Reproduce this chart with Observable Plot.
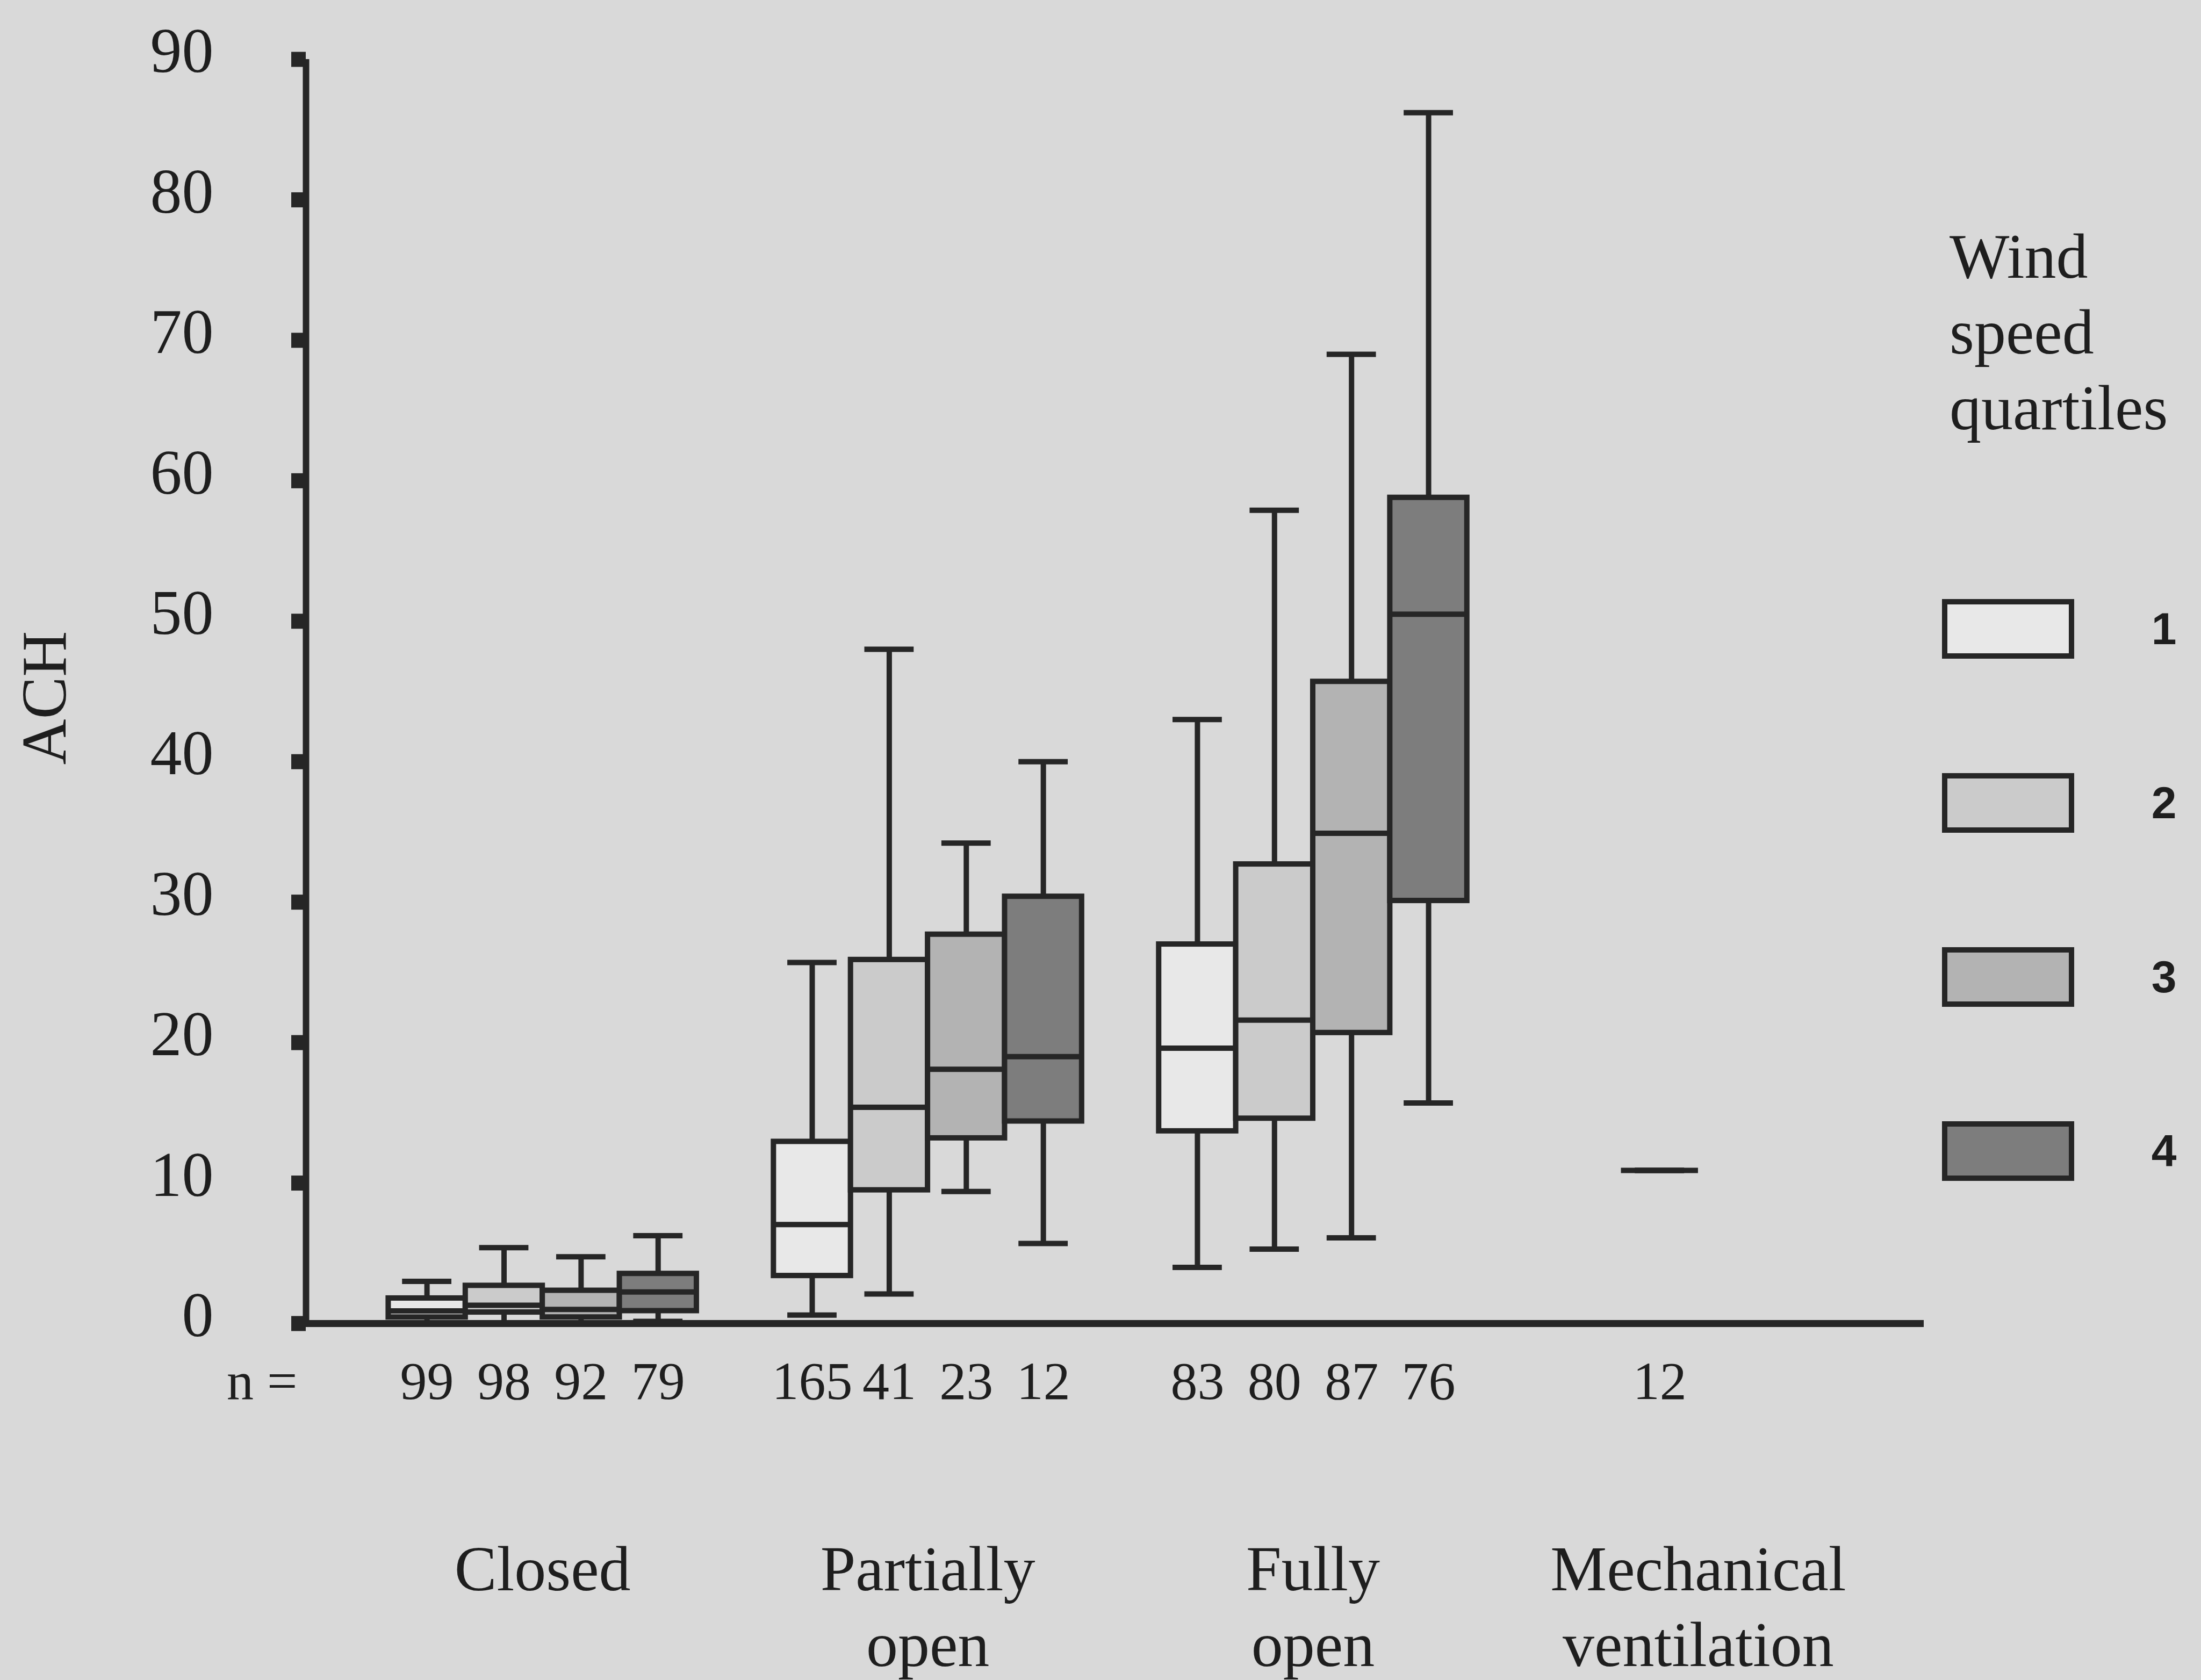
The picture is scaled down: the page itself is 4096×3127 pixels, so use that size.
<!DOCTYPE html>
<html>
<head>
<meta charset="utf-8">
<script src="https://cdn.jsdelivr.net/npm/d3@7"></script>
<script src="https://cdn.jsdelivr.net/npm/@observablehq/plot@0.6"></script>
<style>
  html, body { margin: 0; padding: 0; background: #d9d9d9; }
  #chart { position: relative; width: 4096px; height: 3127px; overflow: hidden; color: #1e1e1e; }
  #chart svg { position: absolute; left: 0; top: 0; }
  .legend-title {
    position: absolute; left: 3628px; top: 407px;
    font-family: "Liberation Serif", "Times New Roman", serif;
    font-size: 118px; line-height: 141px; white-space: pre;
  }
  .swatch {
    position: absolute; left: 3614px; width: 246px; height: 111px;
    box-sizing: border-box; border: 10px solid #262626;
  }
  .swatch-label {
    position: absolute; left: 3967px; width: 120px; height: 111px;
    line-height: 111px; text-align: center;
    font-family: "Liberation Sans", Arial, sans-serif; font-weight: bold; font-size: 84px;
  }
</style>
</head>
<body>
<div id="chart"></div>
<script>
// Window condition groups and wind speed quartiles
const groups = ["Closed", "Partially\nopen", "Fully\nopen", "Mechanical\nventilation"];
const quartiles = ["1", "2", "3", "4"];
const quartileFills = ["#e8e8e8", "#cbcbcb", "#b3b3b3", "#7d7d7d"];
const yTicks = [0, 10, 20, 30, 40, 50, 60, 70, 80, 90];

// One entry per box: group index and wind speed quartile
const boxGroup    = [0, 0, 0, 0, 1, 1, 1, 1, 2, 2, 2, 2, 3];
const boxQuartile = [1, 2, 3, 4, 1, 2, 3, 4, 1, 2, 3, 4, 2];

// Box-plot statistics for air changes per hour (ACH)
const whiskerLow    = [0,    0,    0,    0.15, 0.6,  2.1,  9.4,  5.7,  4.0,  5.3,  6.1,  15.7, 10.9];
const lowerQuartile = [0.45, 0.8,  0.45, 0.9,  3.4,  9.5,  13.2, 14.4, 13.7, 14.6, 20.7, 30.1, 10.9];
const medians       = [0.9,  1.3,  1.0,  2.25, 7.05, 15.4, 18.1, 19.0, 19.6, 21.6, 34.9, 50.5, 10.9];
const upperQuartile = [1.8,  2.7,  2.35, 3.55, 12.95,25.9, 27.7, 30.4, 27.0, 32.7, 45.7, 58.8, 10.9];
const whiskerHigh   = [3.0,  5.4,  4.75, 6.25, 25.7, 48.0, 34.2, 40.0, 43.0, 57.9, 69.0, 86.2, 10.9];
const counts        = [99,   98,   92,   79,   165,  41,   23,   12,   83,   80,   87,   76,   12];

// Each group occupies four adjacent slots followed by a one-slot gap
const slotsPerGroup = 5;
const rows = boxGroup.map((g, i) => ({
  group: groups[g],
  quartile: quartiles[boxQuartile[i] - 1],
  slot: g * slotsPerGroup + (boxQuartile[i] - 1),
  lo: whiskerLow[i],
  q1: lowerQuartile[i],
  med: medians[i],
  q3: upperQuartile[i],
  hi: whiskerHigh[i],
  n: counts[i]
}));
const groupRows = groups.map((label, g) => ({label, center: g * slotsPerGroup + 1.5}));

const xDomain = [-1.57, 19.43];
const halfBox = 0.5;
const halfCap = 0.32;
const ink = "#262626";
const lineW = 10;

const chart = Plot.plot({
  width: 4096,
  height: 3127,
  marginTop: 110,
  marginBottom: 664,
  marginLeft: 569,
  marginRight: 516,
  style: {
    background: "transparent",
    fontFamily: "'Liberation Serif', 'Times New Roman', serif",
    fontSize: "118px",
    color: "#1e1e1e"
  },
  x: {domain: xDomain, axis: null},
  y: {domain: [0, 90], label: null},
  color: {type: "ordinal", domain: quartiles, range: quartileFills},
  marks: [
    // square tick marks on the ACH axis
    Plot.axisY(yTicks, {tickSize: 27, strokeWidth: 28, stroke: ink, tickFormat: () => "", label: null}),
    // tick labels
    Plot.axisY(yTicks, {tickSize: 0, tickPadding: 172, dy: -14, fontSize: 118, label: null}),
    // axis lines
    Plot.ruleX([xDomain[0]], {y1: 0, y2: 90, stroke: ink, strokeWidth: 12}),
    Plot.ruleY([0], {stroke: ink, strokeWidth: 13}),
    // whiskers
    Plot.ruleX(rows, {x: "slot", y1: "q3", y2: "hi", stroke: ink, strokeWidth: lineW}),
    Plot.ruleX(rows, {x: "slot", y1: "lo", y2: "q1", stroke: ink, strokeWidth: lineW}),
    Plot.ruleY(rows, {y: "hi", x1: d => d.slot - halfCap, x2: d => d.slot + halfCap, stroke: ink, strokeWidth: lineW}),
    Plot.ruleY(rows, {y: "lo", x1: d => d.slot - halfCap, x2: d => d.slot + halfCap, stroke: ink, strokeWidth: lineW}),
    // interquartile boxes
    Plot.rect(rows, {
      x1: d => d.slot - halfBox, x2: d => d.slot + halfBox,
      y1: "q1", y2: "q3", fill: "quartile", stroke: ink, strokeWidth: lineW
    }),
    // medians
    Plot.ruleY(rows, {y: "med", x1: d => d.slot - halfBox, x2: d => d.slot + halfBox, stroke: ink, strokeWidth: lineW}),
    // sample sizes
    Plot.text(rows, {x: "slot", y: 0, text: d => String(d.n), dy: 140, lineAnchor: "bottom", fontSize: 100}),
    Plot.text(["n ="], {frameAnchor: "bottom-left", textAnchor: "end", dx: -16, dy: 140, lineAnchor: "bottom", fontSize: 100}),
    // group labels
    Plot.text(groupRows, {x: "center", y: 0, text: "label", dy: 397, lineAnchor: "top", lineHeight: 1.19, fontSize: 118}),
    // axis title
    Plot.text(["ACH"], {frameAnchor: "left", textAnchor: "middle", rotate: -90, dx: -485, dy: 12, fontSize: 118})
  ]
});

const root = document.getElementById("chart");
root.appendChild(chart);

// Legend: wind speed quartiles
const title = document.createElement("div");
title.className = "legend-title";
title.textContent = "Wind\nspeed\nquartiles";
root.appendChild(title);

const legendTop = 1115;
const legendStep = 324;
quartiles.forEach((q, i) => {
  const sw = document.createElement("div");
  sw.className = "swatch";
  sw.style.top = (legendTop + i * legendStep) + "px";
  sw.style.background = quartileFills[i];
  root.appendChild(sw);
  const lab = document.createElement("div");
  lab.className = "swatch-label";
  lab.style.top = (legendTop + i * legendStep) + "px";
  lab.textContent = q;
  root.appendChild(lab);
});
</script>
</body>
</html>
